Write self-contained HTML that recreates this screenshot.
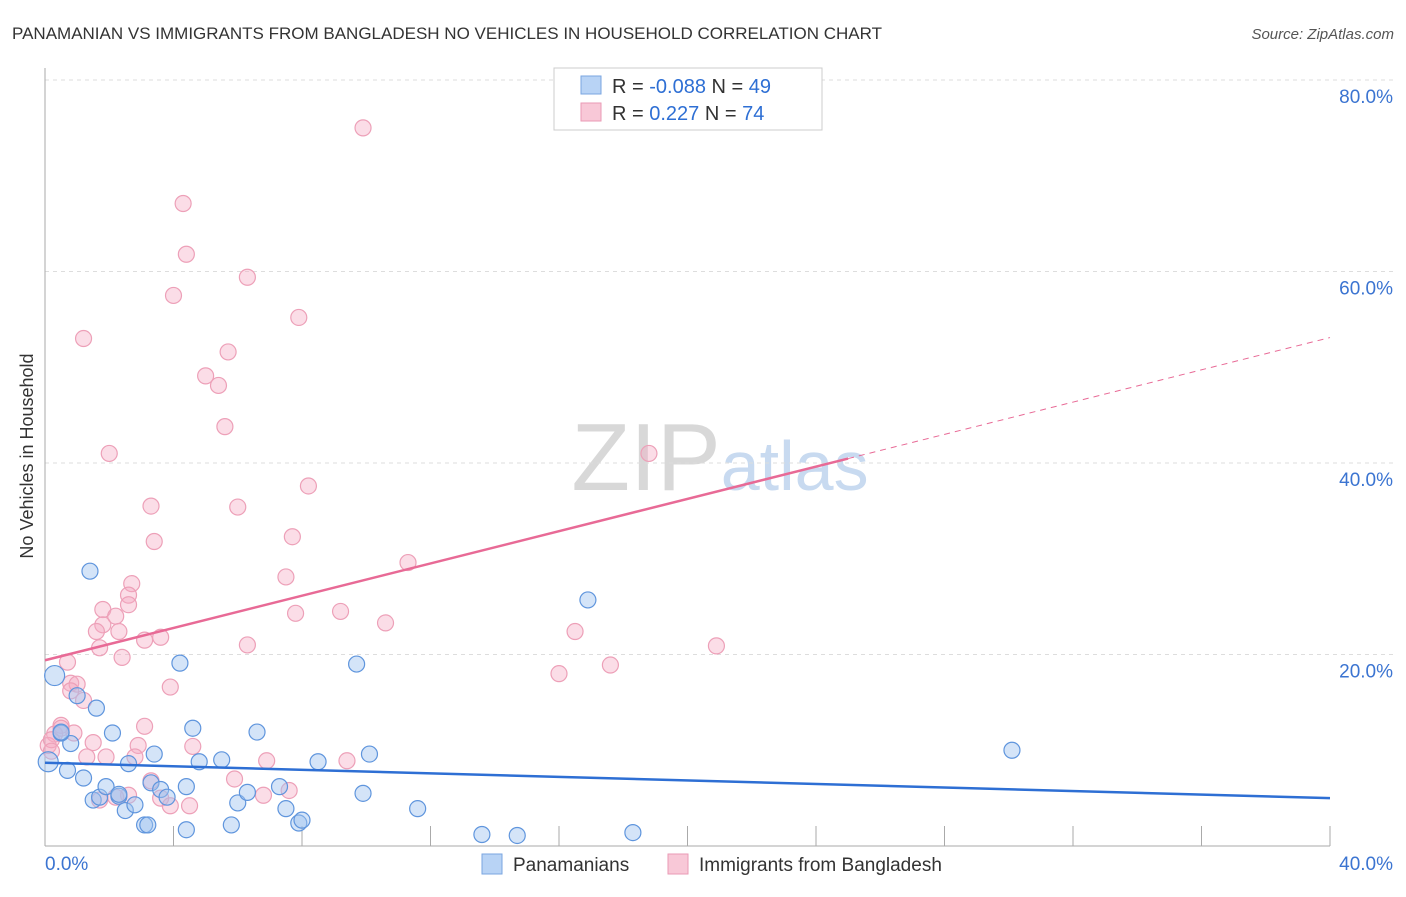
<!DOCTYPE html>
<html><head><meta charset="utf-8"><style>
body{margin:0;background:#fff;font-family:"Liberation Sans",sans-serif}
svg text{font-family:"Liberation Sans",sans-serif}
</style></head><body>
<svg id="c" width="1406" height="892">
<text x="12" y="39" font-size="17" fill="#333">PANAMANIAN VS IMMIGRANTS FROM BANGLADESH NO VEHICLES IN HOUSEHOLD CORRELATION CHART</text>
<text x="1394" y="39" font-size="15" fill="#555" text-anchor="end" font-style="italic">Source: ZipAtlas.com</text>
<text x="33" y="456" font-size="18" fill="#333" text-anchor="middle" transform="rotate(-90 33 456)">No Vehicles in Household</text>
<text x="720" y="490" font-size="96" fill="#ddd" text-anchor="middle" font-family="Liberation Serif"><tspan fill="#d8d8d8">ZIP</tspan><tspan fill="#c8daf0" font-family="Liberation Sans" font-size="70">atlas</tspan></text>
<g id="grid"></g><g id="pts"></g><g id="lines"></g>
<g>
<rect x="554" y="68" width="268" height="62" fill="#fff" stroke="#ccc"/>
<rect x="581" y="76" width="20" height="18" fill="#b8d3f5" stroke="#7aa6e0"/>
<rect x="581" y="103" width="20" height="18" fill="#f8c8d7" stroke="#ea9ab4"/>
<text x="612" y="93" font-size="20" fill="#333">R = <tspan fill="#2e6fd4">-0.088</tspan>   N = <tspan fill="#2e6fd4">49</tspan></text>
<text x="612" y="120" font-size="20" fill="#333">R =   <tspan fill="#2e6fd4">0.227</tspan>   N = <tspan fill="#2e6fd4">74</tspan></text>
</g>
<g>
<rect x="482" y="854" width="20" height="20" fill="#b8d3f5" stroke="#7aa6e0"/>
<text x="513" y="871" font-size="19" fill="#333">Panamanians</text>
<rect x="668" y="854" width="20" height="20" fill="#f8c8d7" stroke="#ea9ab4"/>
<text x="699" y="871" font-size="19" fill="#333">Immigrants from Bangladesh</text>
</g>
</svg>
<script>
const xTicks=[0,40];
const yTicks=[20,40,60,80];
const blueX=[0.3,0.1,1.4,1.6,1.0,0.8,0.5,0.7,1.2,1.5,1.7,1.9,2.1,2.3,2.5,2.6,2.8,3.1,3.2,3.3,3.4,3.6,3.8,4.2,4.4,4.4,4.6,4.8,5.5,5.8,6.0,6.3,6.6,7.3,7.5,7.9,8.0,8.5,9.7,9.9,10.1,11.6,13.6,14.7,16.9,18.3,30.1,0.5,2.3];
const blueY=[17.8,8.8,28.7,14.4,15.7,10.7,11.8,7.9,7.1,4.8,5.1,6.2,11.8,5.2,3.7,8.6,4.3,2.2,2.2,6.6,9.6,5.9,5.1,19.1,1.7,6.2,12.3,8.8,9.0,2.2,4.5,5.6,11.9,6.2,3.9,2.4,2.7,8.8,19.0,5.5,9.6,3.9,1.2,1.1,25.7,1.4,10.0,11.9,5.4];
const pinkX=[9.9,4.3,4.4,4.0,6.3,7.9,1.2,5.7,5.0,5.4,5.6,2.0,18.8,8.2,3.3,6.0,3.4,7.7,11.3,2.7,7.5,2.6,2.6,1.8,2.2,1.8,7.8,9.2,10.6,2.3,1.6,3.6,3.1,1.7,6.3,16.5,20.9,0.7,2.4,17.6,16.0,3.9,0.8,1.0,0.8,1.2,0.5,0.3,0.9,0.1,1.5,3.1,2.9,4.6,1.3,1.9,5.9,6.9,9.4,3.3,2.6,2.2,3.6,3.9,4.5,6.8,7.6,0.2,0.5,2.8,1.7,0.2];
const pinkY=[75.0,67.1,61.8,57.5,59.4,55.2,53.0,51.6,49.1,48.1,43.8,41.0,41.0,37.6,35.5,35.4,31.8,32.3,29.6,27.4,28.1,26.2,25.2,24.7,24.0,23.1,24.3,24.5,23.3,22.4,22.4,21.8,21.5,20.7,21.0,22.4,20.9,19.2,19.7,18.9,18.0,16.6,17.0,16.9,16.2,15.2,12.6,11.7,11.8,10.5,10.8,12.5,10.5,10.4,9.3,9.3,7.0,8.9,8.9,6.8,5.3,5.1,5.0,4.2,4.2,5.3,5.8,11.1,12.3,9.3,4.8,9.9];
const blueTrend=[8.7,5.0];
const pinkTrend=[19.4,53.1];
const NS="http://www.w3.org/2000/svg";
const X0=45,X1=1330,Y0=846,Y80=80;
const sx=v=>X0+(v/40)*(X1-X0);
const sy=v=>Y0-(v/80)*(Y0-Y80);
function mk(t,a,p){const e=document.createElementNS(NS,t);for(const k in a)e.setAttribute(k,a[k]);p.appendChild(e);return e;}
const grid=document.getElementById('grid');
yTicks.forEach(t=>{
 const l=mk('line',{x1:X0,x2:1393,y1:sy(t),y2:sy(t),stroke:'#ddd','stroke-dasharray':'4,4'},grid);
 
 
 const tx=mk('text',{x:1393,y:sy(t)+23,'font-size':19,fill:'#3b74d1','text-anchor':'end'},grid);
 tx.textContent=t.toFixed(1)+'%';
 
 
});
const ax=mk('line',{x1:X0,x2:X0,y1:68,y2:Y0,stroke:'#aaa'},grid);


const bx=mk('line',{x1:X0,x2:X1,y1:Y0,y2:Y0,stroke:'#aaa'},grid);


for(let i=1;i<=10;i++){const v=i*4;const t=mk('line',{x1:sx(v),x2:sx(v),y1:826,y2:Y0,stroke:'#aaa'},grid);
 
 }
xTicks.forEach((t,i)=>{const tx=mk('text',{x:i?1393:45,y:870,'font-size':19,fill:'#3b74d1','text-anchor':i?'end':'start'},grid);
 tx.textContent=t.toFixed(1)+'%';
 
 });
const pts=document.getElementById('pts');
pinkX.forEach((x,i)=>{const c=mk('circle',{cx:sx(x),cy:sy(pinkY[i]),r:8,fill:'rgba(245,170,195,0.4)',stroke:'#eda0b8','stroke-width':1.2},pts);
 
 });
blueX.forEach((x,i)=>{const c=mk('circle',{cx:sx(x),cy:sy(blueY[i]),r:i<2?10:8,fill:'rgba(160,195,240,0.45)',stroke:'#5f95dd','stroke-width':1.2},pts);
 
 });
const lines=document.getElementById('lines');
const bl=mk('line',{x1:sx(0),y1:sy(blueTrend[0]),x2:sx(40),y2:sy(blueTrend[1]),stroke:'#2e6fd4','stroke-width':2.5},lines);


const pm=x=>pinkTrend[0]+(pinkTrend[1]-pinkTrend[0])*x/40;
const pl=mk('line',{x1:sx(0),y1:sy(pm(0)),x2:sx(25),y2:sy(pm(25)),stroke:'#e86a96','stroke-width':2.5},lines);


const pd=mk('line',{x1:sx(25),y1:sy(pm(25)),x2:sx(40),y2:sy(pm(40)),stroke:'#e86a96','stroke-width':1,'stroke-dasharray':'6,5'},lines);


</script>
</body></html>
